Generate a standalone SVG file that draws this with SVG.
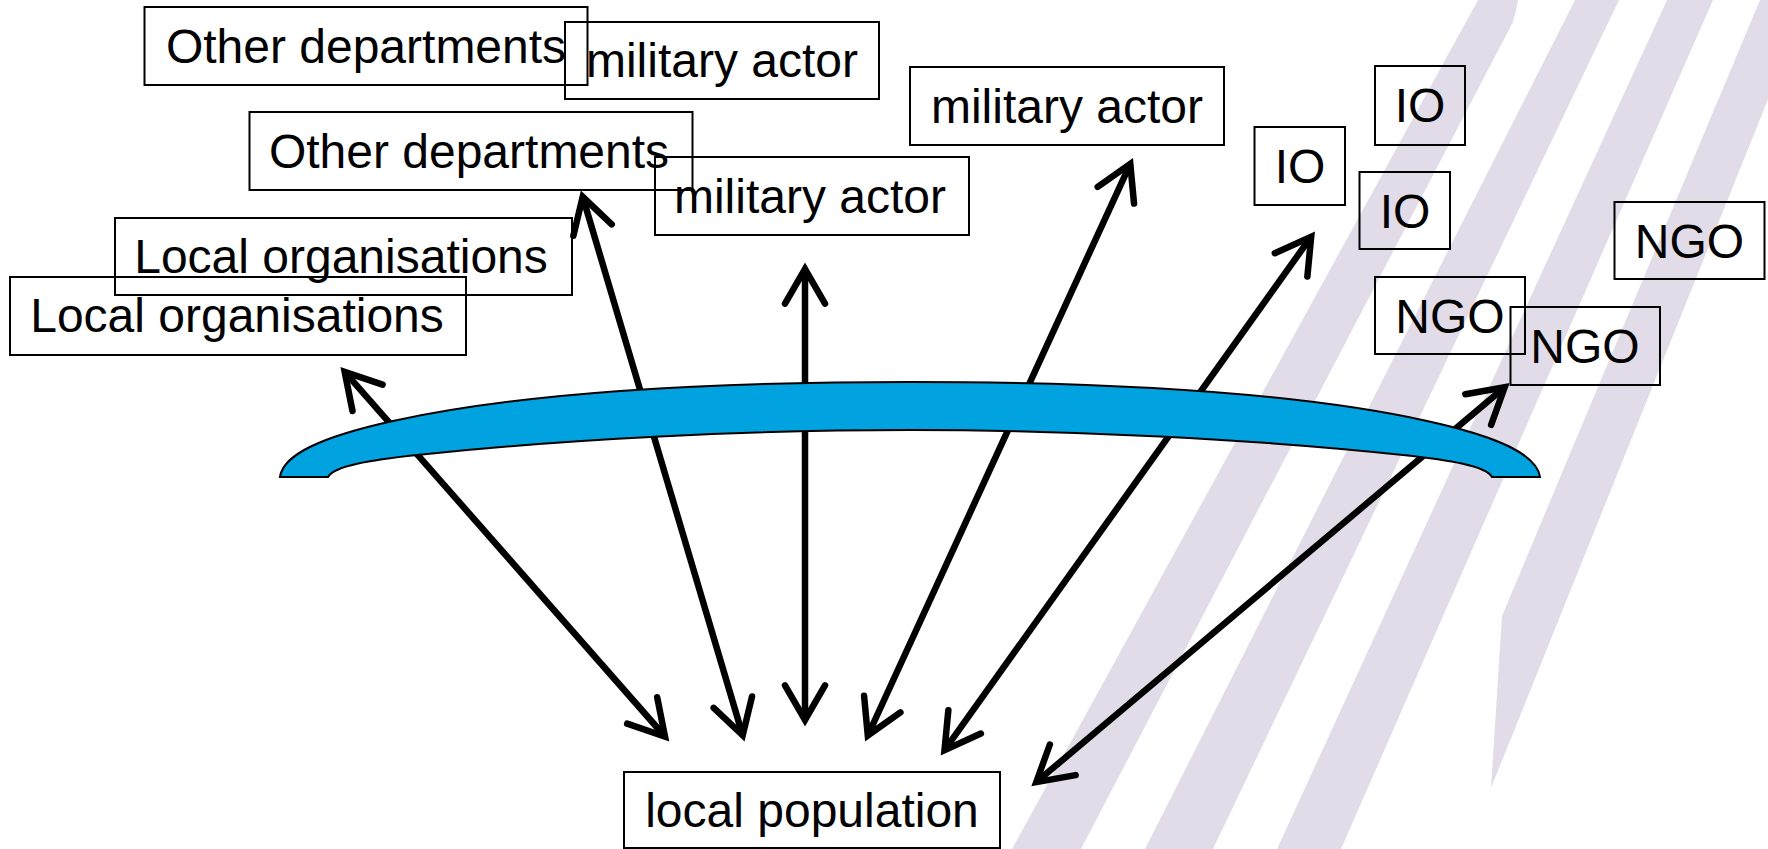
<svg xmlns="http://www.w3.org/2000/svg" width="1768" height="849" viewBox="0 0 1768 849">
<style>
.box{fill:none;stroke:#000;stroke-width:2}
.lbl{font-family:"Liberation Sans",Arial,sans-serif;font-size:48px;fill:#000;text-anchor:middle}
.conn{stroke:#000;stroke-width:6.5;fill:none}
.stripe{fill:#e1dce7}
.band{fill:#00a3e0;stroke:#000;stroke-width:2}
</style>
<defs>
<marker id="ah" markerUnits="userSpaceOnUse" orient="auto-start-reverse" refX="0" refY="0" markerWidth="60" markerHeight="60" viewBox="-50 -30 60 60" overflow="visible">
<path d="M-34.6,-20 L0,0 L-34.6,20" fill="none" stroke="#000" stroke-width="6.5" stroke-linecap="round" stroke-linejoin="miter"/>
</marker>
</defs>
<rect width="1768" height="849" fill="#fff"/>
<g id="stripes">
<path class="stripe" d="M1012,849 L1478,0 L1518,0 Q1516,12 1513,22 L1081,849 Z"/>
<path class="stripe" d="M1145,849 L1575,0 L1619,0 L1213,849 Z"/>
<path class="stripe" d="M1277,849 L1667,0 L1713,0 L1341,849 Z"/>
<path class="stripe" d="M1760,0 L1808,0 L1491,788 L1502,616 Z"/>
</g>
<g id="connectors">
<line class="conn" x1="665" y1="736.5" x2="344.7" y2="371.8" marker-start="url(#ah)" marker-end="url(#ah)"/>
<line class="conn" x1="742.7" y1="735.3" x2="582.7" y2="196.8" marker-start="url(#ah)" marker-end="url(#ah)"/>
<line class="conn" x1="805" y1="720" x2="805" y2="269" marker-start="url(#ah)" marker-end="url(#ah)"/>
<line class="conn" x1="867.8" y1="735.5" x2="1130.3" y2="163.8" marker-start="url(#ah)" marker-end="url(#ah)"/>
<line class="conn" x1="944.5" y1="750.1" x2="1311.2" y2="236.7" marker-start="url(#ah)" marker-end="url(#ah)"/>
<line class="conn" x1="1036.3" y1="782.1" x2="1504.7" y2="387.2" marker-start="url(#ah)" marker-end="url(#ah)"/>
</g>
<g id="band">
<path class="band" d="M280,477 C283,455 320,437 393,421 C543,388 750,382 910,382 C1070,382 1277,388 1427,421 C1500,437 1537,455 1540,477 L1492,477 C1486,466 1450,460 1403,455 C1253,439 1070,430 910,430 C750,430 567,439 417,455 C370,460 334,466 328,477 Z"/>
</g>
<g id="n-otherdep1"><rect class="box" x="144.5" y="7" width="443" height="78"/><text class="lbl" x="366" y="63">Other departments</text></g>
<g id="n-military1"><rect class="box" x="565" y="22" width="314" height="77"/><text class="lbl" x="722" y="77">military actor</text></g>
<g id="n-otherdep2"><rect class="box" x="249.5" y="112" width="443" height="78"/><text class="lbl" x="469" y="168">Other departments</text></g>
<g id="n-military2"><rect class="box" x="655" y="157" width="314" height="78"/><text class="lbl" x="810" y="213">military actor</text></g>
<g id="n-military3"><rect class="box" x="910" y="67" width="314" height="78"/><text class="lbl" x="1067" y="123">military actor</text></g>
<g id="n-localorg1"><rect class="box" x="115" y="218" width="457" height="77"/><text class="lbl" x="341" y="272.5">Local organisations</text></g>
<g id="n-localorg2"><rect class="box" x="10" y="277" width="456" height="78"/><text class="lbl" x="237" y="332">Local organisations</text></g>
<g id="n-population"><rect class="box" x="624" y="772" width="376" height="76"/><text class="lbl" x="812" y="827">local population</text></g>
<g id="n-io1"><rect class="box" x="1254.5" y="127" width="90.5" height="78"/><text class="lbl" x="1300" y="183">IO</text></g>
<g id="n-io2"><rect class="box" x="1375" y="66" width="90" height="79"/><text class="lbl" x="1420" y="122">IO</text></g>
<g id="n-io3"><rect class="box" x="1359.5" y="172" width="90.5" height="77"/><text class="lbl" x="1405" y="227.5">IO</text></g>
<g id="n-ngo1"><rect class="box" x="1375" y="277" width="150" height="77"/><text class="lbl" x="1450" y="332.5">NGO</text></g>
<g id="n-ngo2"><rect class="box" x="1510.5" y="307" width="149.5" height="78"/><text class="lbl" x="1585" y="363">NGO</text></g>
<g id="n-ngo3"><rect class="box" x="1614.5" y="202" width="150" height="77"/><text class="lbl" x="1689.5" y="257.5">NGO</text></g>
</svg>
